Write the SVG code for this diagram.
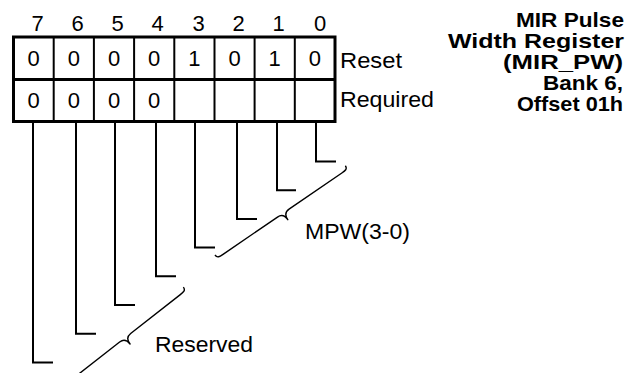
<svg xmlns="http://www.w3.org/2000/svg" width="632" height="373" viewBox="0 0 632 373">
<style>
  .t { font-family: "Liberation Sans", Arial, sans-serif; font-size: 22px; fill: #000; }
  .c { text-anchor: middle; }
  .lbl { font-family: "Liberation Sans", Arial, sans-serif; font-size: 22px; fill: #000; }
  .ttl { font-family: "Liberation Sans", Arial, sans-serif; font-size: 20.5px; font-weight: bold; text-anchor: end; fill: #000; }
  .box { fill: none; stroke: #000; stroke-width: 3; }
  .div { stroke: #000; stroke-width: 2; }
  .lead { fill: none; stroke: #000; stroke-width: 2; }
  .brace { fill: none; stroke: #000; stroke-width: 1.4; stroke-linejoin: round; }
</style>
<rect width="632" height="373" fill="#fff"/>

<g id="register">
  <rect class="box" x="13.5" y="37" width="321.5" height="84.5"/>
  <line class="box" x1="13.5" y1="79.5" x2="335" y2="79.5"/>
  <line class="div" x1="53.7" y1="37" x2="53.7" y2="121.5"/>
  <line class="div" x1="93.9" y1="37" x2="93.9" y2="121.5"/>
  <line class="div" x1="134.1" y1="37" x2="134.1" y2="121.5"/>
  <line class="div" x1="174.3" y1="37" x2="174.3" y2="121.5"/>
  <line class="div" x1="214.5" y1="37" x2="214.5" y2="121.5"/>
  <line class="div" x1="254.6" y1="37" x2="254.6" y2="121.5"/>
  <line class="div" x1="294.8" y1="37" x2="294.8" y2="121.5"/>
</g>

<g id="bit-numbers" class="t c">
  <text x="37.5" y="30.5">7</text>
  <text x="77.5" y="30.5">6</text>
  <text x="117.5" y="30.5">5</text>
  <text x="157.7" y="30.5">4</text>
  <text x="198.5" y="30.5">3</text>
  <text x="238.5" y="30.5">2</text>
  <text x="278.6" y="30.5">1</text>
  <text x="320" y="30.5">0</text>
</g>

<g id="reset-row" class="t c">
  <text x="33.6" y="66">0</text>
  <text x="73.8" y="66">0</text>
  <text x="114" y="66">0</text>
  <text x="154.2" y="66">0</text>
  <text x="194.4" y="66">1</text>
  <text x="234.6" y="66">0</text>
  <text x="274.7" y="66">1</text>
  <text x="314.9" y="66">0</text>
</g>

<g id="required-row" class="t c">
  <text x="33.6" y="107.5">0</text>
  <text x="73.8" y="107.5">0</text>
  <text x="114" y="107.5">0</text>
  <text x="154.2" y="107.5">0</text>
</g>

<g id="row-labels" class="lbl">
  <text x="340" y="67.5" textLength="62" lengthAdjust="spacingAndGlyphs">Reset</text>
  <text x="340" y="107" textLength="94" lengthAdjust="spacingAndGlyphs">Required</text>
</g>

<g id="title" class="ttl">
  <text x="624" y="27" textLength="108" lengthAdjust="spacingAndGlyphs">MIR Pulse</text>
  <text x="624" y="48" textLength="176" lengthAdjust="spacingAndGlyphs">Width Register</text>
  <text x="623" y="69" textLength="120" lengthAdjust="spacingAndGlyphs">(MIR_PW)</text>
  <text x="623" y="90" textLength="80" lengthAdjust="spacingAndGlyphs">Bank 6,</text>
  <text x="623" y="111" textLength="106" lengthAdjust="spacingAndGlyphs">Offset 01h</text>
</g>

<g id="connectors">
  <polyline class="lead" points="316,121.5 316,161.5 336,161.5"/>
  <polyline class="lead" points="277,121.5 277,190.2 296,190.2"/>
  <polyline class="lead" points="237,121.5 237,218.9 257,218.9"/>
  <polyline class="lead" points="195,121.5 195,247.6 215,247.6"/>
  <polyline class="lead" points="156,121.5 156,276.3 176,276.3"/>
  <polyline class="lead" points="115,121.5 115,305 135,305"/>
  <polyline class="lead" points="76,121.5 76,333.7 96,333.7"/>
  <polyline class="lead" points="33,121.5 33,362.4 53,362.4"/>
</g>

<g id="brace-mpw">
  <path class="brace" transform="translate(215,255) rotate(-34.4)" d="M0,0 C0,4 3,4 7,4 L73,4 C77,4 80,6 80,12 C80,6 83,4 87,4 L151,4 C155,4 158,4 158,0"/>
  <text class="lbl" x="305" y="238.5" textLength="105" lengthAdjust="spacingAndGlyphs">MPW(3-0)</text>
</g>

<g id="brace-reserved">
  <path class="brace" transform="translate(62,382) rotate(-38)" d="M0,0 C0,4 3,4 7,4 L70,4 C74,4 77,6 77,12 C77,6 80,4 84,4 L147,4 C151,4 154,4 154,0"/>
  <text class="lbl" x="155" y="351.5" textLength="98" lengthAdjust="spacingAndGlyphs">Reserved</text>
</g>
</svg>
